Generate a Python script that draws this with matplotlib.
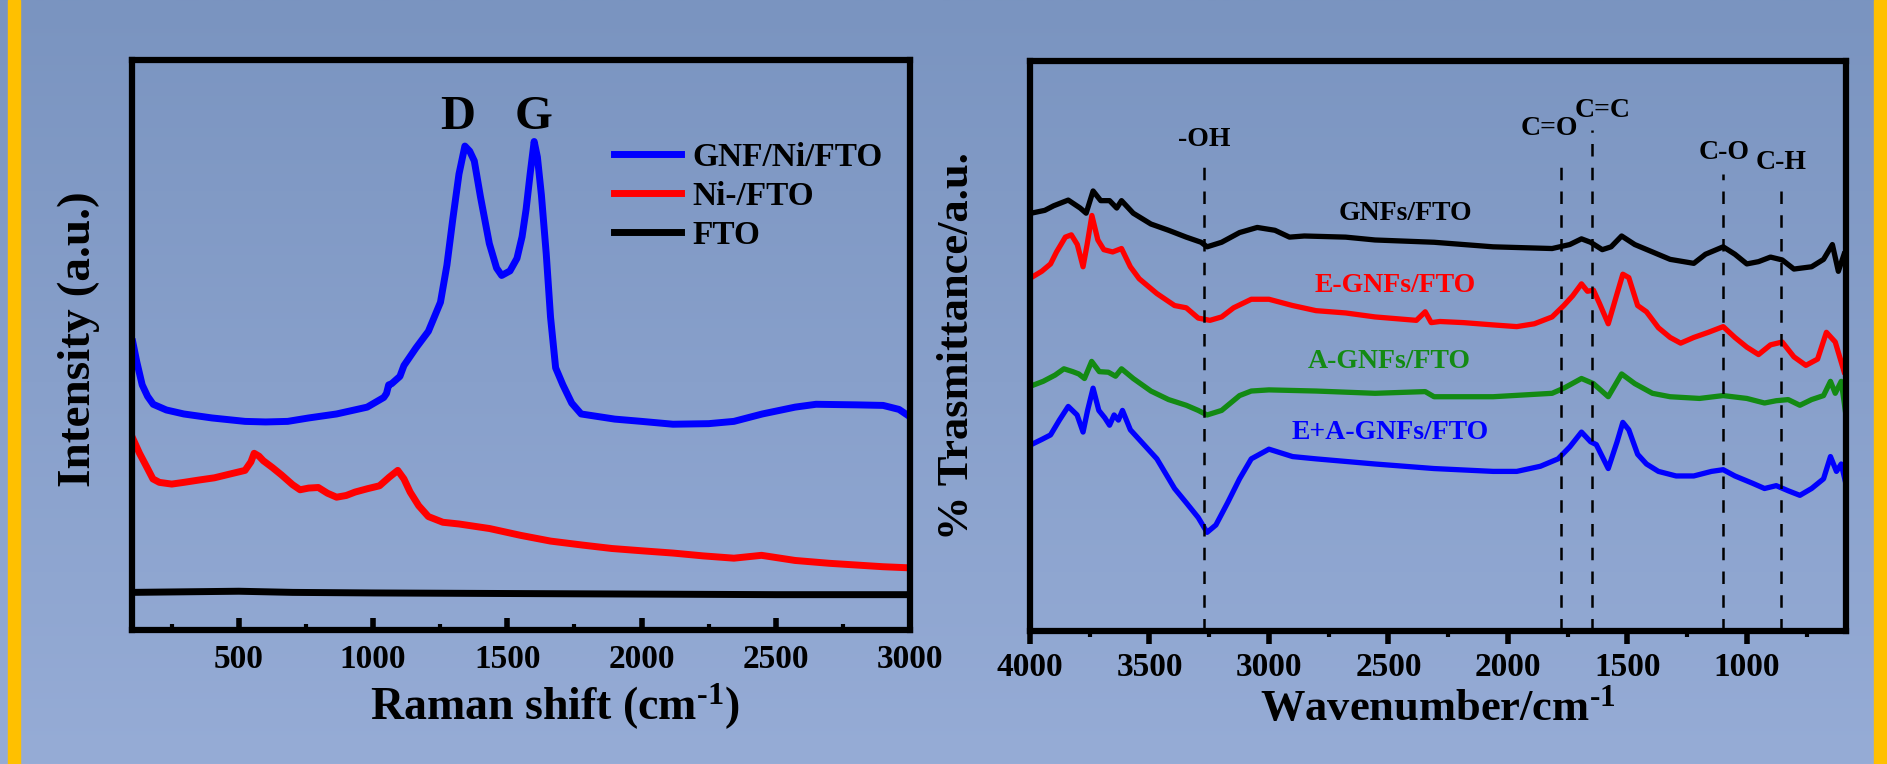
import numpy as np
import matplotlib
matplotlib.use("Agg")
import matplotlib.pyplot as plt
from matplotlib.patches import Rectangle
from matplotlib.ticker import MultipleLocator

plt.rcParams['font.family'] = ['Liberation Serif', 'DejaVu Serif']
plt.rcParams['font.weight'] = 'bold'
plt.rcParams['mathtext.fontset'] = 'custom'
plt.rcParams['mathtext.rm'] = 'Liberation Serif:bold'
plt.rcParams['mathtext.it'] = 'Liberation Serif:bold'
plt.rcParams['mathtext.bf'] = 'Liberation Serif:bold'
plt.rcParams['mathtext.sf'] = 'Liberation Serif'

# ---------------- Raman data (left) ----------------
raman_gnf_x = [105, 120, 140, 160, 181, 230, 295, 400, 523, 600, 682, 760, 864, 978,
               1040, 1050, 1058, 1069, 1100, 1115, 1160, 1206, 1251, 1275, 1297, 1320,
               1342, 1360, 1377, 1400, 1433, 1460, 1479, 1510, 1536, 1555, 1570, 1585,
               1600, 1612, 1627, 1645, 1661, 1680, 1707, 1740, 1775, 1900, 2000, 2117,
               2250, 2344, 2450, 2572, 2650, 2800, 2900, 2959, 3000]
raman_gnf_y = [50.5, 47.0, 43.0, 41.0, 39.6, 38.6, 37.9, 37.2, 36.6, 36.5, 36.6, 37.2,
               37.9, 39.1, 40.8, 41.5, 43.0, 43.2, 44.5, 46.4, 49.5, 52.4, 57.5, 64.0,
               72.1, 80.0, 84.9, 84.0, 82.3, 76.0, 67.8, 63.5, 62.2, 63.0, 65.2, 69.0,
               73.8, 80.0, 85.7, 83.0, 76.3, 66.0, 54.9, 46.0, 43.0, 39.8, 37.9, 37.0,
               36.6, 36.1, 36.2, 36.6, 37.9, 39.1, 39.6, 39.5, 39.4, 38.7, 37.4]

raman_ni_x = [105, 130, 158, 180, 204, 250, 295, 350, 409, 470, 523, 545, 557, 575, 591,
              625, 659, 700, 728, 760, 796, 830, 864, 900, 933, 980, 1024, 1060, 1092,
              1115, 1138, 1170, 1206, 1260, 1320, 1434, 1550, 1661, 1780, 1889, 2000,
              2117, 2230, 2344, 2447, 2572, 2700, 2800, 2900, 3000]
raman_ni_y = [33.6, 31.0, 28.5, 26.5, 25.9, 25.6, 25.9, 26.3, 26.7, 27.4, 28.0, 29.5,
              31.0, 30.5, 29.7, 28.5, 27.2, 25.5, 24.6, 24.9, 25.0, 24.0, 23.3, 23.6,
              24.2, 24.8, 25.3, 26.8, 28.0, 26.5, 24.2, 21.8, 19.9, 18.9, 18.6, 17.8,
              16.6, 15.6, 14.9, 14.3, 13.9, 13.5, 13.0, 12.6, 13.1, 12.2, 11.7, 11.4,
              11.1, 10.9]

raman_fto_x = [105, 300, 500, 700, 1000, 1500, 2000, 2500, 3000]
raman_fto_y = [6.6, 6.7, 6.8, 6.6, 6.5, 6.4, 6.3, 6.2, 6.2]

raman_labels = ['GNF/Ni/FTO', 'Ni-/FTO', 'FTO']
raman_colors = ['#0000FF', '#FF0000', '#000000']

# ---------------- FTIR data (right) ----------------
ftir_gnf_x = [3995, 3938, 3901, 3840, 3790, 3765, 3736, 3704, 3667, 3637, 3617, 3568,
              3494, 3420, 3346, 3284, 3259, 3198, 3123, 3049, 2975, 2914, 2852, 2679,
              2556, 2309, 2062, 1815, 1741, 1692, 1654, 1605, 1568, 1524, 1469, 1395,
              1321, 1222, 1173, 1099, 1050, 1000, 951, 901, 852, 803, 729, 679, 642,
              617, 593]
ftir_gnf_y = [73.3, 73.8, 74.6, 75.6, 74.2, 73.3, 77.2, 75.5, 75.5, 74.2, 75.5, 73.3,
              71.4, 70.3, 69.1, 68.2, 67.4, 68.2, 69.9, 70.8, 70.3, 69.1, 69.3, 69.1,
              68.6, 68.2, 67.4, 67.1, 67.8, 68.8, 68.2, 66.9, 67.4, 69.3, 67.8, 66.5,
              65.2, 64.5, 66.1, 67.4, 66.1, 64.4, 64.8, 65.6, 65.1, 63.5, 63.9, 65.2,
              67.8, 63.1, 66.1]

ftir_e_x = [3995, 3951, 3914, 3889, 3852, 3827, 3802, 3778, 3761, 3741, 3716, 3691,
            3654, 3617, 3580, 3543, 3469, 3395, 3346, 3296, 3247, 3198, 3148, 3074,
            3000, 2901, 2803, 2679, 2556, 2383, 2346, 2321, 2284, 2185, 2062, 1963,
            1889, 1815, 1766, 1729, 1692, 1667, 1642, 1617, 1580, 1543, 1519, 1494,
            1457, 1420, 1370, 1321, 1277, 1222, 1161, 1099, 1050, 1000, 951, 901,
            852, 803, 753, 704, 667, 630, 593]
ftir_e_y = [62.0, 63.1, 64.4, 66.5, 69.1, 69.5, 67.8, 63.9, 67.8, 72.9, 68.6, 66.9,
            66.5, 67.1, 63.9, 61.8, 59.2, 57.1, 56.7, 54.9, 54.5, 55.1, 56.7, 58.2,
            58.2, 57.1, 56.2, 55.8, 55.1, 54.5, 56.0, 54.1, 54.3, 54.1, 53.7, 53.4,
            53.9, 55.1, 57.1, 58.8, 60.9, 59.6, 59.8, 57.5, 53.9, 59.2, 62.6, 62.0,
            57.1, 56.0, 53.2, 51.5, 50.5, 51.5, 52.4, 53.4, 51.5, 49.8, 48.5, 50.2,
            50.7, 48.1, 46.6, 47.7, 52.4, 50.7, 45.5]

ftir_a_x = [3995, 3945, 3895, 3858, 3821, 3796, 3772, 3742, 3710, 3672, 3642, 3617,
            3568, 3494, 3420, 3346, 3296, 3259, 3198, 3123, 3074, 3000, 2803, 2556,
            2346, 2309, 2062, 1815, 1766, 1692, 1642, 1580, 1524, 1469, 1395, 1321,
            1198, 1099, 1000, 926, 877, 827, 778, 729, 679, 650, 630, 605, 588]
ftir_a_y = [43.0, 43.8, 44.9, 46.0, 45.5, 45.1, 44.3, 47.3, 45.5, 45.4, 44.7, 46.0,
            44.3, 42.1, 40.6, 39.6, 38.7, 37.9, 38.7, 41.3, 42.1, 42.3, 42.1, 41.7,
            42.0, 41.1, 41.1, 41.7, 42.6, 44.3, 43.4, 41.1, 45.1, 43.4, 41.7, 41.1,
            40.8, 41.3, 40.8, 40.0, 40.4, 40.6, 39.6, 40.6, 41.3, 43.8, 41.7, 43.8, 38.7]

ftir_ea_x = [3995, 3951, 3914, 3877, 3840, 3803, 3778, 3759, 3736, 3712, 3687, 3667,
             3648, 3630, 3613, 3580, 3543, 3469, 3395, 3346, 3296, 3259, 3222, 3173,
             3123, 3074, 3000, 2901, 2803, 2556, 2309, 2062, 1963, 1864, 1790, 1741,
             1692, 1654, 1630, 1605, 1580, 1543, 1519, 1494, 1457, 1420, 1370, 1296,
             1222, 1148, 1099, 1050, 975, 926, 877, 827, 778, 729, 679, 650, 625,
             605, 588]
ftir_ea_y = [32.7, 33.6, 34.4, 37.0, 39.4, 37.9, 34.9, 38.7, 42.6, 38.7, 37.4, 36.1,
             37.9, 37.0, 38.7, 35.3, 33.6, 30.2, 25.0, 22.5, 19.9, 17.3, 18.6, 22.5,
             26.7, 30.2, 31.9, 30.6, 30.2, 29.3, 28.5, 28.0, 28.0, 28.9, 30.2, 32.3,
             34.9, 33.2, 32.7, 30.6, 28.5, 33.2, 36.6, 35.3, 31.0, 29.3, 28.0, 27.2,
             27.2, 28.0, 28.3, 27.2, 25.9, 25.0, 25.5, 24.6, 23.8, 25.0, 26.7, 30.6,
             28.0, 29.3, 26.3]

ftir_names = ['GNFs/FTO', 'E-GNFs/FTO', 'A-GNFs/FTO', 'E+A-GNFs/FTO']
ftir_colors = ['#000000', '#FF0000', '#138A13', '#0000FF']
ftir_label_x = [2430, 2472, 2497, 2493]
ftir_label_y = [72.1, 59.4, 46.2, 33.6]

band_names = ['-OH', 'C=O', 'C=C', 'C-O', 'C-H']
band_pos = [3270, 1779, 1647, 1098, 857]
band_line_top = [82.3, 83.2, 87.9, 80.2, 78.9]
band_text_x = [3270, 1825, 1603, 1094, 856]
band_text_y = [85.1, 87.0, 90.2, 82.8, 81.1]

# ---------------- figure ----------------
W, H = 1887, 764
fig = plt.figure(figsize=(W / 100, H / 100), dpi=100)

bg = fig.add_axes([0, 0, 1, 1], zorder=-10)
grad = np.linspace(0, 1, 256).reshape(-1, 1)
top_c = np.array([122, 148, 192]) / 255.0
bot_c = np.array([150, 172, 214]) / 255.0
img = top_c[None, None, :] * (1 - grad[:, :, None]) + bot_c[None, None, :] * grad[:, :, None]
bg.imshow(img, aspect='auto', extent=[0, 1, 0, 1], origin='upper')
bg.set_axis_off()

for x0 in (8, 1874):
    fig.patches.append(Rectangle((x0 / W, 0), 12 / W, 1, transform=fig.transFigure,
                                 color='#FFC000', zorder=5))

def px(x0, y0, x1, y1):
    return [x0 / W, 1 - y1 / H, (x1 - x0) / W, (y1 - y0) / H]

ax1 = fig.add_axes(px(132, 60, 910, 630))
ax2 = fig.add_axes(px(1030, 61, 1846, 631))

for ax in (ax1, ax2):
    ax.patch.set_alpha(0)
    for s in ax.spines.values():
        s.set_linewidth(4.5)
    ax.set_ylim(0, 100)
    ax.set_yticks([])

# ----- left: Raman -----
ax1.plot(raman_gnf_x, raman_gnf_y, color=raman_colors[0], lw=5, label=raman_labels[0])
ax1.plot(raman_ni_x, raman_ni_y, color=raman_colors[1], lw=5, label=raman_labels[1])
ax1.plot(raman_fto_x, raman_fto_y, color=raman_colors[2], lw=5, label=raman_labels[2])
ax1.set_xlim(102, 3000)
ax1.xaxis.set_major_locator(MultipleLocator(500))
ax1.xaxis.set_minor_locator(MultipleLocator(250))
ax1.tick_params(axis='x', which='major', direction='in', length=9, width=4, labelsize=24, pad=10)
ax1.tick_params(axis='x', which='minor', direction='in', length=4, width=3)
for t in ax1.get_xticklabels():
    t.set_fontweight('bold')
ax1.set_xlabel(r'Raman shift $\mathsf{(}\mathrm{cm}^{\text{-1}}\mathsf{)}$', fontsize=33, fontweight='bold')
ax1.xaxis.label.set_va('baseline')
ax1.xaxis.set_label_coords((555 - 132) / 778, (630 - 720) / 570)
ax1.set_ylabel('Intensity (a.u.)', fontsize=34, fontweight='bold')
ax1.yaxis.set_label_coords((100 - 132) / 778, 0.51)
ax1.text(1315, 87.9, 'D', fontsize=35, fontweight='bold', ha='center', va='baseline')
ax1.text(1597, 87.9, 'G', fontsize=35, fontweight='bold', ha='center', va='baseline')
leg = ax1.legend(loc='upper left', bbox_to_anchor=((614 - 132) / 778, (630 - 142) / 570),
                 frameon=False, fontsize=24, handlelength=2.0, handletextpad=0.36,
                 labelspacing=0.24, borderpad=0, borderaxespad=0)
for t in leg.get_texts():
    t.set_fontweight('bold')

# ----- right: FTIR -----
for xs, ys, c in zip([ftir_gnf_x, ftir_e_x, ftir_a_x, ftir_ea_x],
                     [ftir_gnf_y, ftir_e_y, ftir_a_y, ftir_ea_y], ftir_colors):
    ax2.plot(xs, ys, color=c, lw=3.8)
for name, c, x, y in zip(ftir_names, ftir_colors, ftir_label_x, ftir_label_y):
    ax2.text(x, y, name, color=c, fontsize=20, fontweight='bold', ha='center', va='baseline')
for name, p, top, tx, ty in zip(band_names, band_pos, band_line_top, band_text_x, band_text_y):
    ax2.vlines(p, 0, top, colors='black', linestyles=(0, (5, 4.5)), lw=1.8)
    ax2.text(tx, ty, name, fontsize=20, fontweight='bold', ha='center', va='baseline')
ax2.set_xlim(4000, 585)
ax2.xaxis.set_major_locator(MultipleLocator(500))
ax2.xaxis.set_minor_locator(MultipleLocator(250))
ax2.tick_params(axis='x', which='major', direction='out', length=9, width=4, labelsize=24, pad=6)
ax2.tick_params(axis='x', which='minor', direction='out', length=4, width=3)
for t in ax2.get_xticklabels():
    t.set_fontweight('bold')
ax2.set_xlabel(r'Wavenumber/cm$^{\text{-1}}$', fontsize=32, fontweight='bold')
ax2.xaxis.label.set_va('baseline')
ax2.xaxis.set_label_coords(0.5, (631 - 720) / 570)
ax2.set_ylabel('% Trasmittance/a.u.', fontsize=32, fontweight='bold')
ax2.yaxis.set_label_coords((977 - 1030) / 816, 0.5)

fig.savefig('out.png', dpi=100)
